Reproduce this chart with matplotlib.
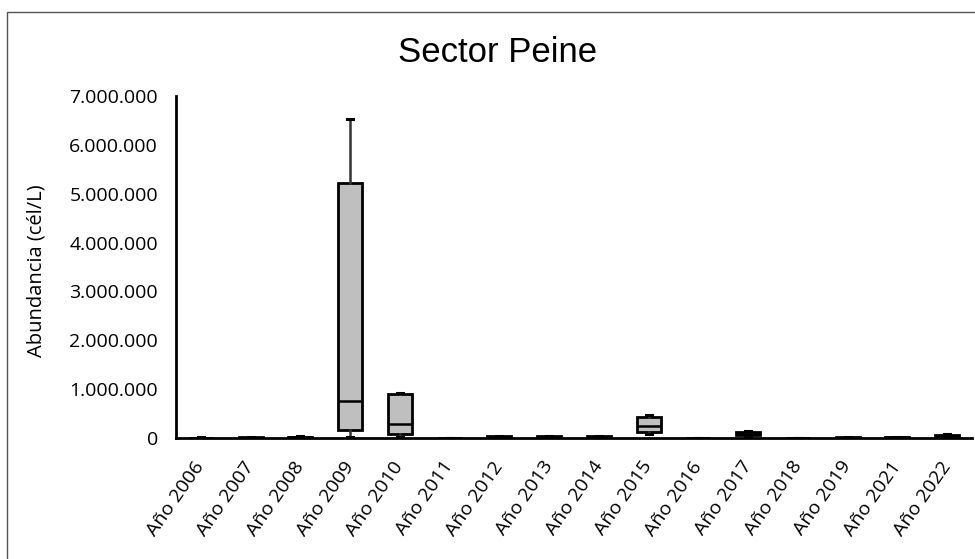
import matplotlib
matplotlib.use("Agg")
import matplotlib.pyplot as plt
from matplotlib.patches import Rectangle
from matplotlib.ticker import FuncFormatter

years = ["Año 2006", "Año 2007", "Año 2008", "Año 2009", "Año 2010", "Año 2011",
         "Año 2012", "Año 2013", "Año 2014", "Año 2015", "Año 2016", "Año 2017",
         "Año 2018", "Año 2019", "Año 2021", "Año 2022"]

# five-number summaries (cél/L)
mins    = [0,     0,     0,     20000,   20000,  0,    5000,  5000,  5000,  80000,  0,    40000,  0,    0,     0,     10000]
q1s     = [2000,  5000,  10000, 160000,  80000,  1000, 10000, 10000, 15000, 130000, 1000, 60000,  1000, 5000,  5000,  20000]
medians = [5000,  10000, 20000, 750000,  290000, 2000, 20000, 20000, 25000, 250000, 2000, 90000,  3000, 10000, 15000, 40000]
q3s     = [10000, 20000, 30000, 5210000, 900000, 4000, 35000, 35000, 40000, 440000, 5000, 130000, 6000, 20000, 25000, 70000]
maxs    = [15000, 25000, 35000, 6530000, 930000, 5000, 40000, 40000, 50000, 470000, 8000, 140000, 8000, 25000, 30000, 75000]

yticks = [0, 1000000, 2000000, 3000000, 4000000, 5000000, 6000000, 7000000]

fig = plt.figure(figsize=(9.75, 5.59), dpi=100)
ax = fig.add_axes([176 / 975, 1 - 438 / 559, (972 - 176) / 975, (438 - 96) / 559])

stats = [dict(label=y, whislo=lo, q1=a, med=m, q3=b, whishi=hi)
         for y, lo, a, m, b, hi in zip(years, mins, q1s, medians, q3s, maxs)]
positions = list(range(len(years)))
ax.bxp(stats, positions=positions, widths=0.48, showfliers=False, patch_artist=True,
       boxprops=dict(facecolor="#bfbfbf", edgecolor="black", linewidth=2),
       medianprops=dict(color="black", linewidth=1.8),
       whiskerprops=dict(color="#333333", linewidth=1.8),
       capprops=dict(color="black", linewidth=2.2), capwidths=0.12)

ax.set_xlim(-0.5, len(years) - 0.5)
ax.set_ylim(0, 7000000)
ax.set_yticks(yticks)
ax.yaxis.set_major_formatter(FuncFormatter(lambda v, p: f"{int(v):,}".replace(",", ".")))
ax.set_xticks(positions)
ax.set_xticklabels(years, rotation=55, ha="right", va="center", rotation_mode="anchor")

for lab in ax.get_xticklabels() + ax.get_yticklabels():
    lab.set_fontfamily(["Open Sans", "DejaVu Sans"])
    lab.set_fontsize(14)
    lab.set_color("black")
ax.tick_params(axis="y", length=0, pad=13)
ax.tick_params(axis="x", length=0, pad=18)

for s in ["top", "right"]:
    ax.spines[s].set_visible(False)
for s in ["left", "bottom"]:
    ax.spines[s].set_linewidth(2)
    ax.spines[s].set_color("black")

ax.set_ylabel("Abundancia (cél/L)", fontsize=14.5, family=["Open Sans", "DejaVu Sans"],
              va="center")
ax.yaxis.set_label_coords((37 - 176) / 796, 0.49)

fig.text(498 / 975, 1 - 62 / 559, "Sector Peine", ha="center", va="baseline", fontsize=25,
         family=["Liberation Sans", "DejaVu Sans"])

fig.patches.append(Rectangle((7 / 975, -0.1), 1.2, 1.1 - 12 / 559, transform=fig.transFigure,
                             fill=False, edgecolor="#555555", linewidth=1))

fig.savefig("out.png", dpi=100)
